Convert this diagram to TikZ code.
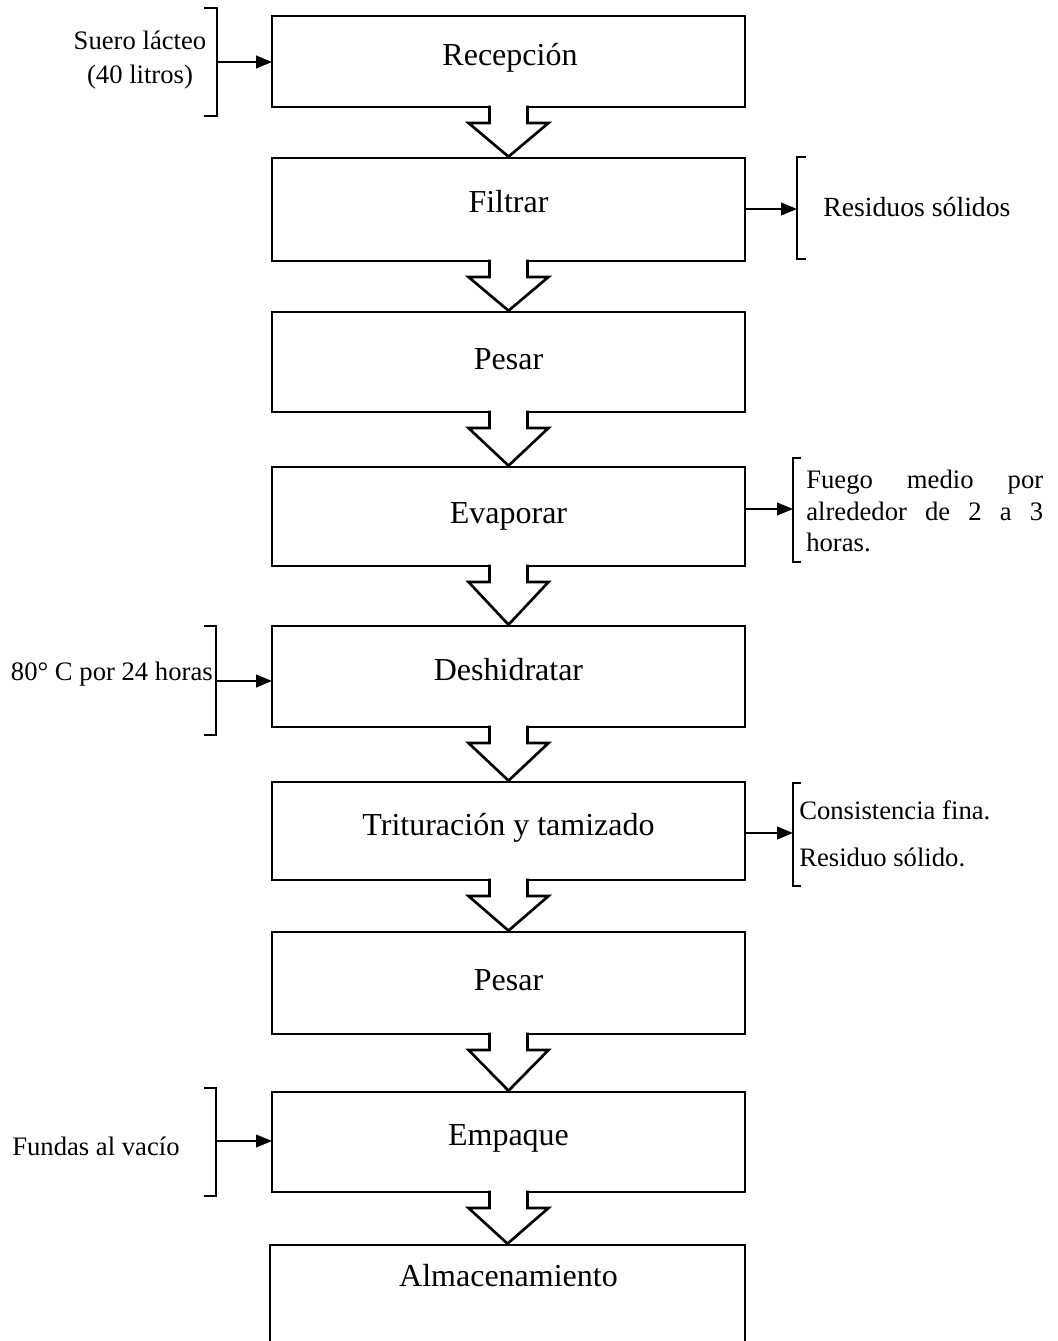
\documentclass[tikz,border=0pt]{standalone}
\usepackage{fontspec}
\setmainfont{Liberation Serif}
\usetikzlibrary{arrows.meta,fit}
\newcommand\blockarrow[2]{%
  \filldraw[blk] ([xshift=-14.25pt,yshift=1pt]#1.south) -- ([xshift=-14.25pt,yshift=-12pt]#1.south)
    -- ([xshift=-30pt,yshift=-12pt]#1.south) -- ([yshift=1pt]#2.north)
    -- ([xshift=30pt,yshift=-12pt]#1.south) -- ([xshift=14.25pt,yshift=-12pt]#1.south)
    -- ([xshift=14.25pt,yshift=1pt]#1.south);}
\begin{document}
\begin{tikzpicture}[x=0.75pt,y=-0.75pt,
  box/.style={draw, line width=2pt, inner sep=0pt, outer sep=0pt},
  btxt/.style={font=\fontsize{24}{28}\selectfont, inner sep=0pt, anchor=base},
  stxt/.style={font=\fontsize{20}{24}\selectfont, inner sep=0pt},
  brk/.style={line width=1.5pt},
  conn/.style={line width=1.5pt, -{Triangle[length=12pt,width=9.5pt]}},
  blk/.style={line width=2pt, fill=white, line join=miter}]
\useasboundingbox (0,0) rectangle (1057,1341);
\clip (0,0) rectangle (1057,1341);

% process boxes
\node[box, fit={(272,16) (745,107)}] (b1) {};
\node[box, fit={(272,158) (745,261)}] (b2) {};
\node[box, fit={(272,312) (745,412)}] (b3) {};
\node[box, fit={(272,467) (745,566)}] (b4) {};
\node[box, fit={(272,626) (745,727)}] (b5) {};
\node[box, fit={(272,782) (745,880)}] (b6) {};
\node[box, fit={(272,932) (745,1034)}] (b7) {};
\node[box, fit={(272,1092) (745,1192)}] (b8) {};
\node[box, fit={(270,1245) (745,1400)}] (b9) {};

\node[btxt] (t1) at (510,65.5) {Recepción};
\node[btxt] (t2) at (508.5,213) {Filtrar};
\node[btxt] (t3) at (508.5,369) {Pesar};
\node[btxt] (t4) at (508.5,523) {Evaporar};
\node[btxt] (t5) at (508.5,680) {Deshidratar};
\node[btxt] (t6) at (508.5,835) {Trituración y tamizado};
\node[btxt] (t7) at (508.5,990) {Pesar};
\node[btxt] (t8) at (508.5,1145) {Empaque};
\node[btxt] (t9) at (508.5,1286) {Almacenamiento};

% block arrows
\blockarrow{b1}{b2}
\blockarrow{b2}{b3}
\blockarrow{b3}{b4}
\blockarrow{b4}{b5}
\blockarrow{b5}{b6}
\blockarrow{b6}{b7}
\blockarrow{b7}{b8}
\blockarrow{b8}{b9}

% side inputs / outputs
% 1
\draw[brk] (204,8) -- (217,8) -- (217,116) -- (204,116);
\coordinate (k1) at (217,62);
\draw[conn] (k1) -- (k1 -| b1.west);
\node[stxt, align=center, font=\fontsize{20}{25.5}\selectfont] (s1) at (140,60) {Suero lácteo\\(40 litros)};
% 2
\draw[brk] (806,157) -- (797,157) -- (797,259) -- (806,259);
\coordinate (k2) at (797,209);
\draw[conn] (k2 -| b2.east) -- (k2);
\node[stxt, anchor=base west, font=\fontsize{20.8}{24}\selectfont] (s2) at (823,217) {Residuos sólidos};
% 4
\draw[brk] (801,458) -- (793,458) -- (793,562) -- (801,562);
\coordinate (k4) at (793,509);
\draw[conn] (k4 -| b4.east) -- (k4);
\node[stxt, anchor=west, align=left, text width=177.75pt, font=\fontsize{20}{23.6}\selectfont] (s4) at (806,511)
  {\makebox[177.75pt][l]{Fuego\hfill medio\hfill por}\\\makebox[177.75pt][l]{alrededor\hfill de\hfill 2\hfill a\hfill 3}\\horas.};
% 5
\draw[brk] (204,626) -- (216,626) -- (216,735) -- (204,735);
\coordinate (k5) at (216,681);
\draw[conn] (k5) -- (k5 -| b5.west);
\node[stxt, anchor=base east] (s5) at (213,680) {80° C por 24 horas};
% 6
\draw[brk] (801,783) -- (793,783) -- (793,886) -- (801,886);
\coordinate (k6) at (793,833);
\draw[conn] (k6 -| b6.east) -- (k6);
\node[stxt, anchor=west, align=left, font=\fontsize{20}{35.25}\selectfont] (s6) at (799,834)
  {Consistencia fina.\\Residuo sólido.};
% 8
\draw[brk] (204,1088) -- (216,1088) -- (216,1196) -- (204,1196);
\coordinate (k8) at (216,1141);
\draw[conn] (k8) -- (k8 -| b8.west);
\node[stxt, anchor=base west] (s8) at (12,1155) {Fundas al vacío};
\end{tikzpicture}
\end{document}
